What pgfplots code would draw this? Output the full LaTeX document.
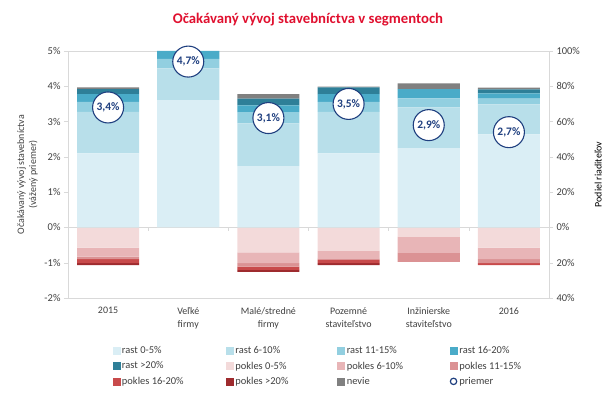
\documentclass[border=0pt]{standalone}
\usepackage{pgfplots}
\pgfplotsset{compat=1.18}
\usepackage{pgfplotstable}
\usepackage{fontspec}
\setmainfont{Carlito}
\definecolor{ra}{HTML}{DAEEF5}
\definecolor{rb}{HTML}{B8DFEA}
\definecolor{rc}{HTML}{92CFE0}
\definecolor{rd}{HTML}{4AABC8}
\definecolor{re}{HTML}{2E7F98}
\definecolor{pa}{HTML}{F3DADA}
\definecolor{pb}{HTML}{E8B5B7}
\definecolor{pc}{HTML}{DB9294}
\definecolor{pd}{HTML}{C84A4B}
\definecolor{pe}{HTML}{9E2B2E}
\definecolor{nv}{HTML}{808080}
\definecolor{navy}{HTML}{1F3F7F}
\definecolor{ttl}{HTML}{E0102F}
\definecolor{lgray}{HTML}{D9D9D9}
\definecolor{txt}{HTML}{404040}

\pgfplotstableread{
x r05 r610 r1115 r1620 r20 nev
0 42.0 23.5 5.7 4.4 2.8 1.0
1 72.2 18.0 5.3 4.5 0 0
2 34.8 24.2 6.4 3.8 3.8 2.5
3 42.0 23.5 5.7 4.4 3.8 0.4
4 44.9 23.1 5.1 5.3 0 3.2
5 52.8 17.0 3.2 3.0 2.3 1.0
}\pos
\pgfplotstableread{
x p05 p610 p1115 p1620 p20
0 -11.4 -5.1 -1.5 -2.3 -1.1
1 0 0 0 0 0
2 -14.2 -6.1 -1.9 -1.9 -1.1
3 -13.3 -4.3 -0.8 -1.9 -1.1
4 -5.3 -9.1 -5.1 0 0
5 -11.4 -6.6 -2.3 -1.1 0
}\neg
\pgfplotstableread{
x y lab
0 3.4 {3,4\%}
1 4.7 {4,7\%}
2 3.1 {3,1\%}
3 3.5 {3,5\%}
4 2.9 {2,9\%}
5 2.7 {2,7\%}
}\avg

\begin{document}
\begin{tikzpicture}
\useasboundingbox (-68bp,-96bp) rectangle (542bp,298bp);
\pgfplotsset{base/.style={width=481bp,height=247bp,scale only axis,xmin=-0.5,xmax=5.5,
  tick label style={font=\fontsize{10.5}{12}\selectfont, text=txt},
  label style={font=\fontsize{10}{12}\selectfont, text=txt}}}
% negative stack
\begin{axis}[base, hide axis, ymin=-40, ymax=100, ybar stacked, bar width=0.775]
\addplot[fill=pa,draw=none] table[x=x,y=p05]{\neg};
\addplot[fill=pb,draw=none] table[x=x,y=p610]{\neg};
\addplot[fill=pc,draw=none] table[x=x,y=p1115]{\neg};
\addplot[fill=pd,draw=none] table[x=x,y=p1620]{\neg};
\addplot[fill=pe,draw=none] table[x=x,y=p20]{\neg};
\end{axis}
% positive stack + frame + right axis
\begin{axis}[base, ymin=-40, ymax=100, ybar stacked, bar width=0.775,
  axis line style={draw=lgray},
  ytick={-40,-20,0,20,40,60,80,100},
  yticklabels={40\%,20\%,0\%,20\%,40\%,60\%,80\%,100\%},
  ytick pos=right, yticklabel pos=right, tick align=outside,
  major tick length=4bp, tick style={draw=lgray},
  xtick={0,1,2,3,4,5},
  xticklabels={2015,{Veľké\\firmy},{Malé/stredné\\firmy},{Pozemné\\staviteľstvo},{Inžinierske\\staviteľstvo},2016},
  xticklabel style={align=center, font=\fontsize{10}{13}\selectfont, yshift=-2bp},
  x tick style={draw=none},
  extra y ticks={0}, extra y tick labels={},
  extra y tick style={grid=major, major grid style={draw=lgray}, tick style={draw=none}},
  ylabel={Podiel riaditeľov}, ylabel near ticks,
  clip=false]
\addplot[fill=ra,draw=none] table[x=x,y=r05]{\pos};
\addplot[fill=rb,draw=none] table[x=x,y=r610]{\pos};
\addplot[fill=rc,draw=none] table[x=x,y=r1115]{\pos};
\addplot[fill=rd,draw=none] table[x=x,y=r1620]{\pos};
\addplot[fill=re,draw=none] table[x=x,y=r20]{\pos};
\addplot[fill=nv,draw=none] table[x=x,y=nev]{\pos};
\pgfplotsinvokeforeach{0.5,1.5,2.5,3.5,4.5}{
  \draw[lgray] (axis cs:#1,0) -- (axis cs:#1,-2.3);
}
\end{axis}
% left axis with averages and legend
\begin{axis}[base, ymin=-2, ymax=5, hide x axis,
  axis y line*=left, axis line style={draw=lgray},
  ytick={-2,-1,0,1,2,3,4,5},
  yticklabels={-2\%,-1\%,0\%,1\%,2\%,3\%,4\%,5\%},
  tick align=outside, major tick length=4bp, tick style={draw=lgray},
  ylabel={Očakávaný vývoj stavebníctva\\(vážený priemer)},
  ylabel style={align=center},
  legend columns=4,
  legend style={at={(0.528,-0.18)}, anchor=north, draw=none, fill=none,
    font=\fontsize{10.5}{12}\selectfont, text=txt, row sep=2.5bp,
    /tikz/every even column/.append style={column sep=0bp}},
  legend cell align=left,
  clip=false]
\addlegendimage{legend image code/.code={\fill[ra] (0bp,-3.5bp) rectangle (7bp,3.5bp);}}
\addlegendentry{\makebox[102bp][l]{rast 0-5\%}}
\addlegendimage{legend image code/.code={\fill[rb] (0bp,-3.5bp) rectangle (7bp,3.5bp);}}
\addlegendentry{\makebox[100bp][l]{rast 6-10\%}}
\addlegendimage{legend image code/.code={\fill[rc] (0bp,-3.5bp) rectangle (7bp,3.5bp);}}
\addlegendentry{\makebox[101bp][l]{rast 11-15\%}}
\addlegendimage{legend image code/.code={\fill[rd] (0bp,-3.5bp) rectangle (7bp,3.5bp);}}
\addlegendentry{\makebox[70bp][l]{rast 16-20\%}}
\addlegendimage{legend image code/.code={\fill[re] (0bp,-3.5bp) rectangle (7bp,3.5bp);}}
\addlegendentry{\makebox[102bp][l]{rast >20\%}}
\addlegendimage{legend image code/.code={\fill[pa] (0bp,-3.5bp) rectangle (7bp,3.5bp);}}
\addlegendentry{\makebox[100bp][l]{pokles 0-5\%}}
\addlegendimage{legend image code/.code={\fill[pb] (0bp,-3.5bp) rectangle (7bp,3.5bp);}}
\addlegendentry{\makebox[101bp][l]{pokles 6-10\%}}
\addlegendimage{legend image code/.code={\fill[pc] (0bp,-3.5bp) rectangle (7bp,3.5bp);}}
\addlegendentry{\makebox[70bp][l]{pokles 11-15\%}}
\addlegendimage{legend image code/.code={\fill[pd] (0bp,-3.5bp) rectangle (7bp,3.5bp);}}
\addlegendentry{\makebox[102bp][l]{pokles 16-20\%}}
\addlegendimage{legend image code/.code={\fill[pe] (0bp,-3.5bp) rectangle (7bp,3.5bp);}}
\addlegendentry{\makebox[100bp][l]{pokles >20\%}}
\addlegendimage{legend image code/.code={\fill[nv] (0bp,-3.5bp) rectangle (7bp,3.5bp);}}
\addlegendentry{\makebox[101bp][l]{nevie}}
\addlegendimage{legend image code/.code={\draw[navy, line width=1.2pt] (3.5bp,0bp) circle (3.2bp);}}
\addlegendentry{\makebox[70bp][l]{priemer}}
\addplot[only marks, mark=*, mark size=15.5bp,
  mark options={fill=white, draw=navy, line width=1.1pt},
  nodes near coords, point meta=explicit symbolic,
  every node near coord/.append style={anchor=center, font=\bfseries\fontsize{11.5}{13}\selectfont, text=navy}]
  table[x=x, y=y, meta=lab]{\avg};
\end{axis}
\node[font=\bfseries\fontsize{14.8}{17}\selectfont, text=ttl] at (240bp,278bp) {Očakávaný vývoj stavebníctva v segmentoch};
\end{tikzpicture}
\end{document}
